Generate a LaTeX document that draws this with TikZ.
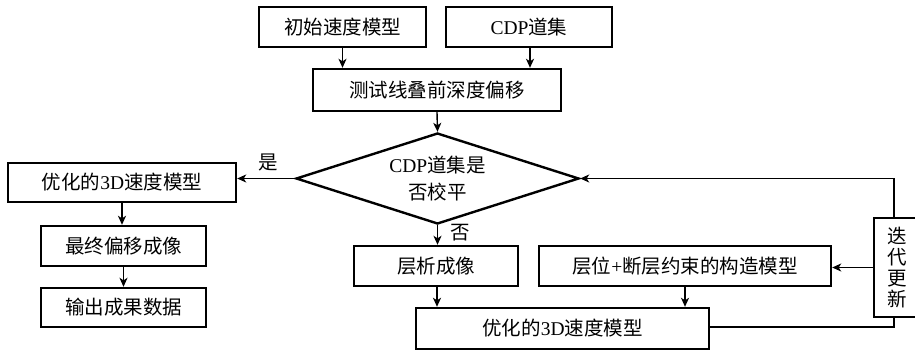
\documentclass[tikz,border=0pt]{standalone}
\usepackage{fontspec}
\setmainfont{Noto Sans CJK SC}
\newfontfamily\lat{Liberation Serif}
\usetikzlibrary{shapes.geometric,arrows.meta,calc}
\begin{document}
\begin{tikzpicture}[x=1pt,y=-1pt,
  txt/.style={font=\fontsize{19.5pt}{27pt}\selectfont},
  box/.style={txt, draw=black, line width=2.4pt, minimum height=40pt, inner sep=0pt, fill=white},
  dia/.style={txt, draw=black, line width=2.4pt, shape=diamond, aspect=3, inner sep=0pt,
              minimum width=283pt, minimum height=91pt, align=center},
  conn/.style={draw=black, line width=1.4pt},
  arr/.style={conn, -{Stealth[length=9pt,width=8pt,inset=2.5pt]}},
  lab/.style={font=\fontsize{19.5pt}{22pt}\selectfont, inner sep=0pt}]
\useasboundingbox[fill=white] (0,0) rectangle (915,354);

\node[box, minimum width=167pt] (init) at (342.5,27) {初始速度模型};
\node[box, minimum width=166pt] (cdp) at (529,27) {{\lat CDP}道集};
\node[box, minimum width=248pt, minimum height=42pt] (mig) at (437,90) {测试线叠前深度偏移};
\node[dia] (dec) at (437.5,178.5) {{\lat CDP}道集是\\否校平};

\node[box, minimum width=228pt, minimum height=39pt] (opt1) at (122,182.5) {优化的{\lat 3D}速度模型};
\node[box, minimum width=165pt] (final) at (123.5,246) {最终偏移成像};
\node[box, minimum width=165pt, minimum height=39pt] (out) at (123.5,307.5) {输出成果数据};

\node[box, minimum width=164pt] (tomo) at (436,266) {层析成像};
\node[box, minimum width=292pt] (struct) at (685,266) {层位{\lat +}断层约束的构造模型};
\node[box, minimum width=293pt, minimum height=41pt] (opt2) at (562.5,328.5) {优化的{\lat 3D}速度模型};
\node[box, minimum width=46pt, minimum height=99pt, align=center,
      font=\fontsize{19.5pt}{20.7pt}\selectfont] (iter) at (897,267.5) {迭\\代\\更\\新};

\node[lab] (yes) at (268,162) {是};
\node[lab] (no) at (460,233) {否};

\coordinate (topR) at (894,178.5);
\coordinate (botR) at (894,327);

\draw[arr] (init.south) -- (init.south |- mig.north);
\draw[arr] ([xshift=1pt]cdp.south) -- ([xshift=1pt]cdp.south |- mig.north);
\draw[arr] (mig.south) -- (dec.north);
\draw[arr] (dec.west) -- (dec.west -| opt1.east);
\draw[arr] (opt1.south) -- (opt1.south |- final.north);
\draw[arr] (final.south) -- (out.north);
\draw[arr] (dec.south) -- (dec.south |- tomo.north);
\draw[arr] ([xshift=1pt]tomo.south) -- ([xshift=1pt]tomo.south |- opt2.north);
\draw[arr] (struct.south) -- (struct.south |- opt2.north);
\draw[arr] (iter.west) -- (iter.west -| struct.east);
\draw[arr] (topR |- iter.north) -- (topR) -- (dec.east);
\draw[conn] (opt2.east |- botR) -- (botR) -- (botR |- iter.south);
\end{tikzpicture}
\end{document}
